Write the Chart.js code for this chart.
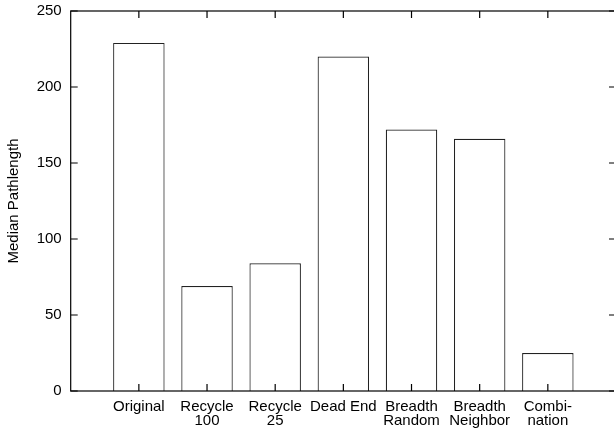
<!DOCTYPE html>
<html>
<head>
<meta charset="utf-8">
<script src="https://cdn.jsdelivr.net/npm/chart.js@4"></script>
<style>
  html, body { margin: 0; padding: 0; overflow: hidden; background: #fff; }
  canvas { display: block; }
</style>
</head>
<body>
<canvas id="myChart" width="622" height="431"></canvas>
<script>
//data block
const categories = ['Original', ['Recycle', '100'], ['Recycle', '25'], 'Dead End',
    ['Breadth', 'Random'], ['Breadth', 'Neighbor'], ['Combi-', 'nation']];
const medianPathlength = [229, 69, 84, 220, 172, 166, 25];
const yTicks = [0, 50, 100, 150, 200, 250];

// gnuplot style x range: one empty slot on each side
const labels = [''].concat(categories, ['']);
const values = [null].concat(medianPathlength, [null]);

const FONT = '"Liberation Sans", Arial, Helvetica, sans-serif';

// frame + inward ticks on all four sides, like gnuplot
const frameTicks = {
    id: 'frameTicks',
    afterDraw(chart) {
        const ctx = chart.ctx;
        const a = chart.chartArea;
        const xs = chart.scales.x, ys = chart.scales.y;
        const len = 7;
        ctx.save();
        ctx.strokeStyle = '#000';
        ctx.lineWidth = 1.2;
        ctx.beginPath();
        yTicks.forEach(v => {
            const y = ys.getPixelForValue(v);
            ctx.moveTo(a.left, y); ctx.lineTo(a.left + len, y);
            ctx.moveTo(a.right, y); ctx.lineTo(a.right - len, y);
        });
        categories.forEach((c, i) => {
            const x = xs.getPixelForValue(i + 1);
            ctx.moveTo(x, a.bottom); ctx.lineTo(x, a.bottom - len);
            ctx.moveTo(x, a.top); ctx.lineTo(x, a.top + len);
        });
        ctx.stroke();
        ctx.strokeRect(a.left, a.top, a.right - a.left, a.bottom - a.top);
        ctx.restore();
    }
};

//config block
const config = {
    type: 'bar',
    data: {
        labels: labels,
        datasets: [{
            data: values,
            backgroundColor: '#fff',
            borderColor: '#222',
            borderWidth: 1.2,
            categoryPercentage: 1,
            barPercentage: 0.755
        }]
    },
    options: {
        responsive: false,
        animation: false,
        layout: { padding: { top: 11, right: 6, left: 0, bottom: 0 } },
        plugins: {
            legend: { display: false },
            tooltip: { enabled: false }
        },
        scales: {
            x: {
                offset: false,
                grid: { display: false, drawTicks: false },
                border: { display: false },
                ticks: {
                    autoSkip: false,
                    maxRotation: 0,
                    padding: 9,
                    color: '#000',
                    font: { family: FONT, size: 15, lineHeight: 0.93 }
                },
                afterFit(scale) {
                    scale.height = 40;
                    scale.paddingLeft = 0;
                    scale.paddingRight = 0;
                }
            },
            y: {
                min: 0,
                max: 250,
                grid: { display: false, drawTicks: false },
                border: { display: false },
                ticks: {
                    stepSize: 50,
                    padding: 9,
                    color: '#000',
                    font: { family: FONT, size: 15 }
                },
                title: {
                    display: true,
                    text: 'Median Pathlength',
                    color: '#000',
                    padding: { top: 5, bottom: 0 },
                    font: { family: FONT, size: 15 }
                },
                afterFit(scale) {
                    scale.width = 70.7;
                    scale.paddingTop = 0;
                    scale.paddingBottom = 0;
                }
            }
        }
    },
    plugins: [frameTicks]
};

//render block
const myChart = new Chart(document.getElementById('myChart'), config);
</script>
</body>
</html>
